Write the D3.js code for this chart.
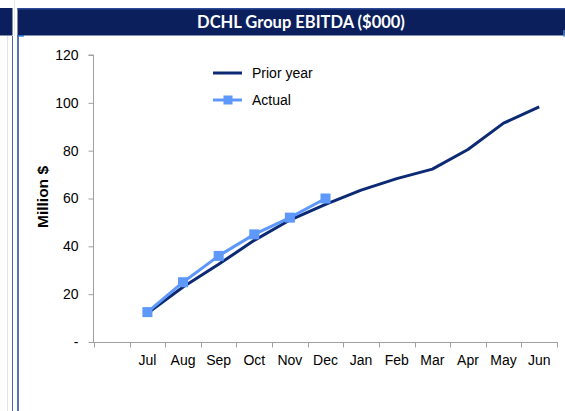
<!DOCTYPE html>
<html>
<head>
<meta charset="utf-8">
<script src="https://cdn.jsdelivr.net/npm/d3@7"></script>
<style>
  html, body { margin: 0; padding: 0; background: #fff; }
  svg { display: block; }
</style>
</head>
<body>
<svg id="chart" width="565" height="411"></svg>
<script>
const title = "DCHL Group EBITDA ($000)";
const months = ["Jul","Aug","Sep","Oct","Nov","Dec","Jan","Feb","Mar","Apr","May","Jun"];
const priorYear = [12, 23, 32.5, 42.5, 51, 57.5, 63.5, 68.3, 72.3, 80.5, 91.5, 98.3];
const actual = [12.5, 25, 36, 45, 52, 60];
const yTicks = [0, 20, 40, 60, 80, 100, 120];
const yTickLabels = ["-", "20", "40", "60", "80", "100", "120"];
const seriesNames = ["Prior year", "Actual"];

const W = 565, H = 411;
const svg = d3.select("#chart");
const font = "'Liberation Sans', Arial, sans-serif";
const navy = "#0a1f5c";
const priorColor = "#0c2a74";
const actualColor = "#5e98fb";

// frame decorations
svg.append("rect").attr("x", 0).attr("y", 8).attr("width", 12.5).attr("height", 27.5).attr("fill", navy);
svg.append("line").attr("x1", 7.5).attr("x2", 7.5).attr("y1", 36).attr("y2", H).attr("stroke", "#e2e2f0").attr("stroke-width", 1);
svg.append("line").attr("x1", 12.5).attr("x2", 12.5).attr("y1", 36).attr("y2", H).attr("stroke", "#4a68b8").attr("stroke-width", 1);
svg.append("line").attr("x1", 14.5).attr("x2", 14.5).attr("y1", 0).attr("y2", 36).attr("stroke", "#e8e8f0").attr("stroke-width", 1);
svg.append("rect").attr("x", 17.5).attr("y", 8).attr("width", W - 17.5).attr("height", 27.5).attr("fill", navy);
svg.append("rect").attr("x", 17.5).attr("y", 8).attr("width", W - 17.5).attr("height", 1.5).attr("fill", "#2c4a96");
svg.append("line").attr("x1", 18).attr("x2", 18).attr("y1", 35).attr("y2", H).attr("stroke", "#2544a0").attr("stroke-width", 1.5);
svg.append("rect").attr("x", 18).attr("y", 35).attr("width", 6).attr("height", 1.6).attr("fill", "#1f6fd0");
svg.append("line").attr("x1", 564).attr("x2", 564).attr("y1", 30).attr("y2", 37).attr("stroke", "#5aa0e0").attr("stroke-width", 1.2);

svg.append("text")
  .attr("x", 301).attr("y", 22)
  .attr("text-anchor", "middle").attr("dominant-baseline", "central")
  .attr("fill", "#fff")
  .style("font-family", "Lato, 'Open Sans', sans-serif")
  .style("font-weight", "bold").style("font-size", "16.5px")
  .text(title);

// scales
const x = d3.scaleBand().domain(["", ...months]).range([94, 557]).paddingInner(0).paddingOuter(0);
const y = d3.scaleLinear().domain([0, 120]).range([342, 55]);
const cx = m => x(m) + x.bandwidth() / 2;

// y axis
const yAxis = d3.axisLeft(y).tickValues(yTicks).tickSize(5).tickPadding(10)
  .tickFormat((d, i) => yTickLabels[i]);
const gy = svg.append("g").attr("transform", "translate(93.5,0)").call(yAxis);
gy.select(".domain").attr("stroke", "#a0a0a0").attr("d", `M-5,${y(120)}H0V${y(0)}`);
gy.selectAll(".tick line").attr("stroke", "#a0a0a0");
gy.selectAll(".tick text").style("font-family", font).style("font-size", "14px").attr("fill", "#000");

// x axis
const xAxis = d3.axisBottom(x).tickSize(0).tickPadding(13);
const gx = svg.append("g").attr("transform", `translate(0,${y(0) + 0.5})`).call(xAxis);
gx.select(".domain").attr("stroke", "#a0a0a0").attr("d", `M93,0H558`);
gx.selectAll(".tick text").style("font-family", font).style("font-size", "14px").attr("fill", "#000");
const boundaries = [...x.domain().map(d => x(d)), x.range()[1]];
gx.selectAll("line.bt").data(boundaries).join("line").attr("class", "bt")
  .attr("x1", d => Math.round(d) + 0.5).attr("x2", d => Math.round(d) + 0.5)
  .attr("y1", 0).attr("y2", 5).attr("stroke", "#a0a0a0");

// y label
svg.append("text")
  .attr("transform", `translate(42,197) rotate(-90)`)
  .attr("text-anchor", "middle").attr("dominant-baseline", "central")
  .style("font-family", font).style("font-weight", "bold").style("font-size", "15.5px")
  .text("Million $");

// lines
const priorData = months.map((m, i) => ({ m, v: priorYear[i] }));
const actualData = actual.map((v, i) => ({ m: months[i], v }));

svg.append("path").datum(priorData)
  .attr("fill", "none").attr("stroke", priorColor).attr("stroke-width", 3)
  .attr("stroke-linejoin", "round")
  .attr("d", d3.line().x(d => cx(d.m)).y(d => y(d.v)));

svg.append("path").datum(actualData)
  .attr("fill", "none").attr("stroke", actualColor).attr("stroke-width", 3)
  .attr("stroke-linejoin", "round")
  .attr("d", d3.line().x(d => cx(d.m)).y(d => y(d.v)));

const ms = 10;
svg.selectAll("rect.mk").data(actualData).join("rect").attr("class", "mk")
  .attr("x", d => cx(d.m) - ms / 2).attr("y", d => y(d.v) - ms / 2)
  .attr("width", ms).attr("height", ms).attr("fill", actualColor);

// legend
const lg = svg.append("g");
lg.append("line").attr("x1", 213).attr("x2", 242).attr("y1", 73).attr("y2", 73)
  .attr("stroke", priorColor).attr("stroke-width", 3);
lg.append("text").attr("x", 252).attr("y", 73).attr("dominant-baseline", "central")
  .style("font-family", font).style("font-size", "14px").text(seriesNames[0]);
lg.append("line").attr("x1", 213).attr("x2", 242).attr("y1", 100).attr("y2", 100)
  .attr("stroke", actualColor).attr("stroke-width", 3);
lg.append("rect").attr("x", 228 - 4.5).attr("y", 100 - 4.5).attr("width", 9).attr("height", 9).attr("fill", actualColor);
lg.append("text").attr("x", 252).attr("y", 100).attr("dominant-baseline", "central")
  .style("font-family", font).style("font-size", "14px").text(seriesNames[1]);
</script>
</body>
</html>
